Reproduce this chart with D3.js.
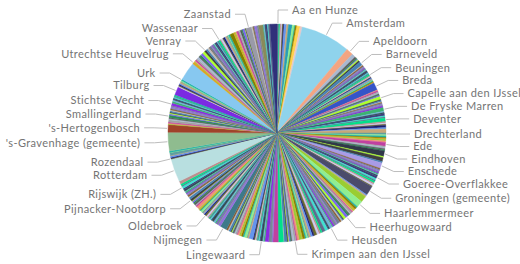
<!DOCTYPE html>
<html>
<head>
<meta charset="utf-8">
<script src="https://cdn.jsdelivr.net/npm/d3@7"></script>
<style>
  body { margin: 0; background: #fff; }
  svg { display: block; }
  .label { font-family: Lato, "Noto Sans", sans-serif; font-size: 11px; letter-spacing: 0.4px; fill: #747474; }
</style>
</head>
<body>
<div id="chart"></div>
<script>
// gemeenten in volgorde zoals in de taart (alfabetisch, met de klok mee vanaf boven)
const gemeenten = [
  "Aa en Hunze","Aalsmeer","Aalten","Achtkarspelen","Alblasserdam","Albrandswaard","Alkmaar","Almelo","Almere","Alphen aan den Rijn",
  "Alphen-Chaam","Altena","Ameland","Amersfoort","Amstelveen","Amsterdam","Apeldoorn","Arnhem","Assen","Asten",
  "Baarle-Nassau","Baarn","Barendrecht","Barneveld","Beek (L.)","Beekdaelen","Beemster","Beesel","Berg en Dal","Bergeijk",
  "Bergen (L.)","Bergen (NH.)","Bergen op Zoom","Berkelland","Bernheze","Best","Beuningen","Beverwijk","Bladel","Blaricum",
  "Bloemendaal","Bodegraven-Reeuwijk","Boekel","Borger-Odoorn","Borne","Borsele","Boxmeer","Boxtel","Breda","Brielle",
  "Bronckhorst","Brummen","Brunssum","Bunnik","Bunschoten","Buren","Capelle aan den IJssel","Castricum","Coevorden","Cranendonck",
  "Cuijk","Culemborg","Dalfsen","Dantumadiel","De Bilt","De Fryske Marren","De Ronde Venen","De Wolden","Delft","Den Helder",
  "Deurne","Deventer","Diemen","Dinkelland","Doesburg","Doetinchem","Dongen","Dordrecht","Drechterland","Drimmelen",
  "Dronten","Druten","Duiven","Echt-Susteren","Edam-Volendam","Ede","Eemnes","Eemsdelta","Eersel","Eijsden-Margraten",
  "Eindhoven","Elburg","Emmen","Enkhuizen","Enschede","Epe","Ermelo","Etten-Leur","Geertruidenberg","Geldrop-Mierlo",
  "Gemert-Bakel","Gennep","Gilze en Rijen","Goeree-Overflakkee","Goes","Goirle","Gooise Meren","Gorinchem","Gouda","Grave",
  "Groningen (gemeente)","Gulpen-Wittem","Haaksbergen","Haarlem","Haarlemmermeer","Halderberge","Hardenberg","Harderwijk","Hardinxveld-Giessendam","Harlingen",
  "Hattem","Heemskerk","Heemstede","Heerde","Heerenveen","Heerhugowaard","Heerlen","Heeze-Leende","Heiloo","Hellendoorn",
  "Hellevoetsluis","Helmond","Hendrik-Ido-Ambacht","Hengelo (O.)","Het Hogeland","Heumen","Heusden","Hillegom","Hilvarenbeek","Hilversum",
  "Hoeksche Waard","Hof van Twente","Hollands Kroon","Hoogeveen","Hoorn","Horst aan de Maas","Houten","Huizen","Hulst","IJsselstein",
  "Kaag en Braassem","Kampen","Kapelle","Katwijk","Kerkrade","Koggenland","Krimpen aan den IJssel","Krimpenerwaard","Laarbeek","Landerd",
  "Landgraaf","Landsmeer","Langedijk","Lansingerland","Laren (NH.)","Leeuwarden","Leiden","Leiderdorp","Leidschendam-Voorburg","Lelystad",
  "Leudal","Leusden","Lingewaard","Lisse","Lochem","Loon op Zand","Lopik","Losser","Maasdriel","Maasgouw",
  "Maassluis","Maastricht","Medemblik","Meerssen","Meierijstad","Meppel","Middelburg (Z.)","Midden-Delfland","Midden-Drenthe","Midden-Groningen",
  "Mill en Sint Hubert","Moerdijk","Molenlanden","Montferland","Montfoort","Mook en Middelaar","Neder-Betuwe","Nederweert","Nieuwegein","Nieuwkoop",
  "Nijkerk","Nijmegen","Nissewaard","Noardeast-Fryslân","Noord-Beveland","Noordenveld","Noordoostpolder","Noordwijk","Nuenen, Gerwen en Nederwetten","Nunspeet",
  "Oegstgeest","Oirschot","Oisterwijk","Oldambt","Oldebroek","Oldenzaal","Olst-Wijhe","Ommen","Oost Gelre","Oosterhout",
  "Ooststellingwerf","Oostzaan","Opmeer","Opsterland","Oss","Oude IJsselstreek","Ouder-Amstel","Oudewater","Overbetuwe","Papendrecht",
  "Peel en Maas","Pekela","Pijnacker-Nootdorp","Purmerend","Putten","Raalte","Reimerswaal","Renkum","Renswoude","Reusel-De Mierden",
  "Rheden","Rhenen","Ridderkerk","Rijssen-Holten","Rijswijk (ZH.)","Roerdalen","Roermond","Roosendaal","Rotterdam","Rozendaal",
  "Rucphen","Schagen","Scherpenzeel","Schiedam","Schiermonnikoog","Schouwen-Duiveland","'s-Gravenhage (gemeente)","'s-Hertogenbosch","Simpelveld","Sint Anthonis",
  "Sint-Michielsgestel","Sittard-Geleen","Sliedrecht","Sluis","Smallingerland","Soest","Someren","Son en Breugel","Stadskanaal","Staphorst",
  "Stede Broec","Steenbergen","Steenwijkerland","Stein (L.)","Stichtse Vecht","Súdwest-Fryslân","Terneuzen","Terschelling","Texel","Teylingen",
  "Tholen","Tiel","Tilburg","Tubbergen","Twenterand","Tynaarlo","Tytsjerksteradiel","Uden","Uitgeest","Uithoorn",
  "Urk","Utrecht (gemeente)","Utrechtse Heuvelrug","Vaals","Valkenburg aan de Geul","Valkenswaard","Veendam","Veenendaal","Veere","Veldhoven",
  "Velsen","Venlo","Venray","Vijfheerenlanden","Vlaardingen","Vlieland","Vlissingen","Voerendaal","Voorschoten","Voorst",
  "Vught","Waadhoeke","Waalre","Waalwijk","Waddinxveen","Wageningen","Wassenaar","Waterland","Weert","Weesp",
  "West Betuwe","West Maas en Waal","Westerkwartier","Westerveld","Westervoort","Westerwolde","Westland","Weststellingwerf","Westvoorne","Wierden",
  "Wijchen","Wijdemeren","Wijk bij Duurstede","Winterswijk","Woensdrecht","Woerden","Wormerland","Woudenberg","Zaanstad","Zaltbommel",
  "Zandvoort","Zeewolde","Zeist","Zevenaar","Zoetermeer","Zoeterwoude","Zuidplas","Zundert","Zutphen","Zwartewaterland",
  "Zwijndrecht","Zwolle"
];

const waarden = [
  10,6,6,6,5,5,13,10,20,12,
  4,7,3,16,12,265,38,20,10,6,
  5,7,8,20,4,6,3,4,6,5,
  4,6,8,6,5,5,8,5,4,3,
  4,5,3,4,3,4,5,4,40,5,
  7,5,6,4,5,6,16,5,7,4,
  5,5,6,4,8,20,7,5,12,7,
  5,18,8,7,5,12,8,21,10,6,
  8,5,6,7,8,20,5,8,6,6,
  30,7,20,8,30,6,6,6,5,6,
  6,4,5,14,9,6,10,8,11,4,
  50,6,7,33,34,8,10,9,5,5,
  5,8,6,5,10,14,13,5,5,7,
  8,15,6,14,9,5,14,6,5,16,
  18,9,9,12,15,9,11,10,6,8,
  7,12,4,15,11,6,10,12,5,4,
  8,4,6,14,3,28,28,6,17,20,
  7,6,10,5,7,5,3,5,5,5,
  6,22,8,4,14,7,9,4,7,10,
  3,8,8,6,3,2,5,4,11,6,
  8,36,14,10,3,7,10,11,5,7,
  5,4,7,9,8,6,5,4,6,10,
  5,2,3,5,16,7,3,2,9,7,
  8,3,12,12,5,7,5,6,2,3,
  8,4,9,8,12,4,10,16,125,3,
  6,8,3,14,2,7,100,40,4,4,
  6,12,6,6,13,7,5,4,7,5,
  5,5,8,5,14,10,8,4,5,7,
  5,6,45,5,5,6,6,8,3,5,
  8,99,12,4,5,7,7,13,5,10,
  13,14,10,9,12,2,10,4,5,5,
  5,6,4,9,5,6,10,5,10,4,
  9,4,9,5,4,8,20,8,5,6,
  9,6,4,8,6,12,3,3,30,8,
  4,5,12,9,24,3,7,4,9,5,
  9,37
];

// gemeenten waarvan het label zichtbaar is
const labels = [
  "Aa en Hunze","Amsterdam","Apeldoorn","Barneveld","Beuningen","Breda","Capelle aan den IJssel","De Fryske Marren",
  "Deventer","Drechterland","Ede","Eindhoven","Enschede","Goeree-Overflakkee","Groningen (gemeente)","Haarlemmermeer",
  "Heerhugowaard","Heusden","Krimpen aan den IJssel","Lingewaard","Nijmegen","Oldebroek","Pijnacker-Nootdorp",
  "Rijswijk (ZH.)","Rotterdam","Rozendaal","'s-Gravenhage (gemeente)","'s-Hertogenbosch","Smallingerland",
  "Stichtse Vecht","Tilburg","Urk","Utrechtse Heuvelrug","Venray","Wassenaar","Zaanstad"
];

const width = 520, height = 264;
const cx = 277, cy = 133, radius = 109, labelRadius = 123;

const palette = ["#5f6b8d","#a3a3a3","#2f4f4f","#9acd32","#8a2be2","#20b2aa","#708090","#c8a878",
  "#4682b4","#6b6b2f","#7b68ee","#00e08a","#a8b8d0","#3d3d7b","#f0907a","#3cb371","#808000","#9370db",
  "#5f9ea0","#bdbdbd","#1f1f6f","#adff2f","#bc8f8f","#5a5a5a","#40e0d0","#c040a0","#6fb0d8","#daa520",
  "#778899","#90ee90","#8b5a2b","#6495ed","#404040","#cfc8ef","#2e8b57"];
const vasteKleur = {
  "Amsterdam": "#8fd3ec", "Apeldoorn": "#f4a582", "Almere": "#2a9db5", "Amstelveen": "#e8c8c8",
  "Amersfoort": "#ffd24a", "Breda": "#3555c8", "Groningen (gemeente)": "#4b4b6b", "Enschede": "#a99be6",
  "Eindhoven": "#303848", "Haarlem": "#9acd32", "Rotterdam": "#b8dfe0", "'s-Gravenhage (gemeente)": "#8fbc8f",
  "'s-Hertogenbosch": "#a0422a", "Utrecht (gemeente)": "#87c8f0", "Tilburg": "#7b2be2", "Nijmegen": "#3d7a8a",
  "Zwolle": "#30307a", "Zoetermeer": "#8a8a5a", "Zaanstad": "#9a9aa8", "Leeuwarden": "#00e08a", "Leiden": "#c040a0"
};
const kleur = (d, i) => vasteKleur[d.naam] || palette[(i * 11) % palette.length];

const data = gemeenten.map((g, i) => ({naam: g, waarde: waarden[i]}));

const svg = d3.select("#chart")
  .append("svg")
  .attr("width", width)
  .attr("height", height);

const pie = d3.pie().sort(null).value(d => d.waarde);
const arcs = pie(data);
const arc = d3.arc().innerRadius(0).outerRadius(radius);

svg.append("g")
  .attr("transform", `translate(${cx},${cy})`)
  .selectAll("path")
  .data(arcs)
  .join("path")
  .attr("d", arc)
  .attr("fill", (d, i) => kleur(d.data, i))
  .attr("stroke", (d, i) => kleur(d.data, i))
  .attr("stroke-width", 0.4);

// labels: natuurlijke hoogte, daarna overlap wegwerken per kant
const lab = arcs.filter(a => labels.includes(a.data.naam)).map(a => {
  const mid = (a.startAngle + a.endAngle) / 2;
  return {naam: a.data.naam, mid, rechts: mid < Math.PI, y: cy - labelRadius * Math.cos(mid)};
});

const gap = 12.5;
[true, false].forEach(kant => {
  const rij = lab.filter(l => l.rechts === kant).sort((a, b) => a.y - b.y);
  for (let i = 1; i < rij.length; i++) {
    if (rij[i].y < rij[i - 1].y + gap) rij[i].y = rij[i - 1].y + gap;
  }
  const maxY = height - 9;
  if (rij[rij.length - 1].y > maxY) {
    rij[rij.length - 1].y = maxY;
    for (let i = rij.length - 2; i >= 0; i--) {
      if (rij[i].y > rij[i + 1].y - gap) rij[i].y = rij[i + 1].y - gap;
    }
  }
});

lab.forEach(l => {
  const dy = l.y - cy;
  const dx = Math.sqrt(Math.max(0, labelRadius * labelRadius - dy * dy));
  const s = l.rechts ? 1 : -1;
  l.ex = cx + s * dx;
  l.px = cx + (radius + 1) * Math.sin(l.mid);
  l.py = cy - (radius + 1) * Math.cos(l.mid);
  l.hx = l.ex + s * 10;
  l.tx = l.ex + s * 14;
});

svg.append("g")
  .selectAll("polyline")
  .data(lab)
  .join("polyline")
  .attr("points", l => `${l.px},${l.py} ${l.ex},${l.y} ${l.hx},${l.y}`)
  .attr("fill", "none")
  .attr("stroke", "#bdbdbd")
  .attr("stroke-width", 1);

svg.append("g")
  .selectAll("text")
  .data(lab)
  .join("text")
  .attr("class", "label")
  .attr("x", l => l.tx)
  .attr("y", l => l.y)
  .attr("dy", "0.35em")
  .attr("text-anchor", l => l.rechts ? "start" : "end")
  .text(l => l.naam);
</script>
</body>
</html>
